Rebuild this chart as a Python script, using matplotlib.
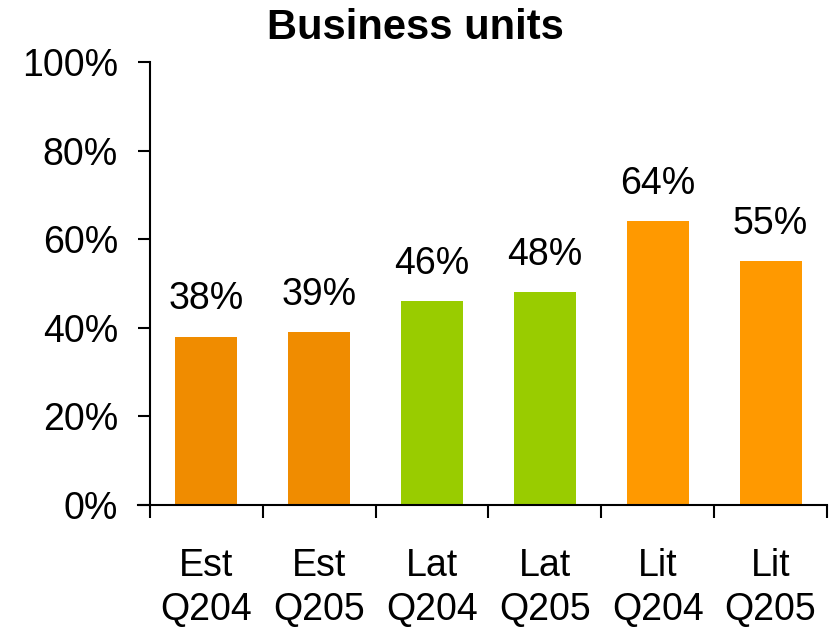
import matplotlib.pyplot as plt
import numpy as np

# data
units = ['Est', 'Est', 'Lat', 'Lat', 'Lit', 'Lit']
quarters = ['Q204', 'Q205', 'Q204', 'Q205', 'Q204', 'Q205']
shares = [38, 39, 46, 48, 64, 55]
bar_colors = ['#F08C00', '#F08C00', '#99CC00', '#99CC00', '#FF9900', '#FF9900']

plt.rcParams['font.family'] = ['Liberation Sans', 'DejaVu Sans']

fig = plt.figure(figsize=(8.3, 6.28), dpi=100)
ax = fig.add_axes([0.1807, 0.1959, 0.8157, 0.7054])

x = np.arange(len(shares))
bars = ax.bar(x, shares, width=0.55, color=bar_colors)

for b, v in zip(bars, shares):
    ax.annotate(f'{v}%', (b.get_x() + b.get_width() / 2, v),
                xytext=(0, 14), textcoords='offset points',
                ha='center', va='bottom', fontsize=27)

ax.set_xlim(-0.5, 5.5)
ax.set_ylim(0, 100)
ax.set_yticks(range(0, 101, 20))
ax.set_yticklabels([f'{t}%' for t in range(0, 101, 20)])

# boundary ticks without labels, labels centered under bars
ax.set_xticks(np.arange(-0.5, 5.6, 1))
ax.set_xticklabels([])
ax.set_xticks(x, minor=True)
ax.set_xticklabels([f'{u}\n{q}' for u, q in zip(units, quarters)], minor=True,
                   linespacing=1.3)
ax.tick_params(axis='x', which='minor', length=0, pad=31, labelsize=27)
ax.tick_params(axis='x', which='major', direction='out', length=9, width=1.5)
ax.tick_params(axis='y', direction='out', length=9, width=1.5, pad=14, labelsize=27)

for s in ['top', 'right']:
    ax.spines[s].set_visible(False)
ax.spines['left'].set_linewidth(1.5)
ax.spines['bottom'].set_linewidth(1.5)
ax.spines['bottom'].set_bounds(-0.61, 5.5)

fig.text(0.5, 0.955, 'Business units', ha='center', va='center',
         fontsize=30, fontweight='bold')

fig.savefig('out.png', dpi=100)
